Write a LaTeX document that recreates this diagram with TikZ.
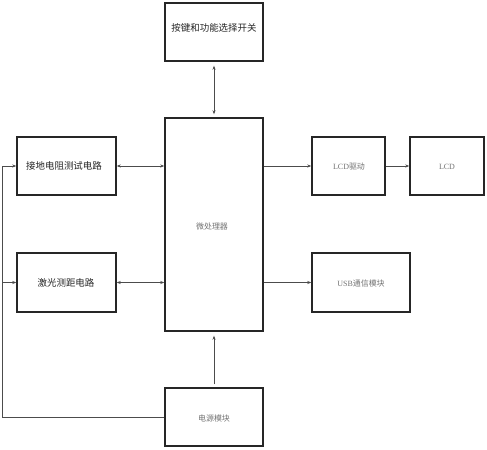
\documentclass[tikz,border=0pt]{standalone}
\usepackage{fontspec}
\setmainfont{Liberation Serif}
\newfontfamily\cjk{Noto Sans CJK SC}
\usetikzlibrary{arrows.meta}
\begin{document}
\begin{tikzpicture}[x=1bp,y=-1bp,
  blk/.style={draw=black!85,line width=1.4bp,fill=white,inner sep=0pt},
  lbl/.style={font=\cjk\fontsize{9.5}{11}\selectfont,text=black!85},
  lbll/.style={font=\cjk\fontsize{8}{10}\selectfont,text=black!55},
  con/.style={draw=black!70,line width=0.7bp,-{Stealth[length=4bp,width=3bp]}},
  dcon/.style={draw=black!70,line width=0.7bp,{Stealth[length=4bp,width=3bp]}-{Stealth[length=4bp,width=3bp]}}]
\useasboundingbox (0,0) rectangle (487,450);
% boxes
\node[blk,minimum width=98bp,minimum height=58bp] (key) at (214,32) {};
\node[lbl] at (214,28) {按键和功能选择开关};
\node[blk,minimum width=98bp,minimum height=213bp] (mcu) at (214,224.5) {};
\node[lbll] at (212,226) {微处理器};
\node[blk,minimum width=99bp,minimum height=58bp] (gnd) at (66.5,166) {};
\node[lbl] at (64,166) {接地电阻测试电路};
\node[blk,minimum width=99bp,minimum height=59bp] (laser) at (66.5,282.5) {};
\node[lbl] at (66,283) {激光测距电路};
\node[blk,minimum width=73bp,minimum height=58bp] (drv) at (348.5,166) {};
\node[lbll] at (349,167) {{\rmfamily LCD}驱动};
\node[blk,minimum width=74bp,minimum height=58bp] (lcd) at (447,166) {};
\node[lbll] at (447,167) {\rmfamily LCD};
\node[blk,minimum width=98bp,minimum height=59bp] (usb) at (361,282.5) {};
\node[lbll] at (361,283) {{\rmfamily USB}通信模块};
\node[blk,minimum width=98bp,minimum height=58bp] (pwr) at (214,417) {};
\node[lbll] at (214,418) {电源模块};
% connectors
\draw[dcon] ([yshift=-4bp]key.south) -- ([yshift=3bp]mcu.north);
\draw[dcon] (gnd.east) -- (mcu.west |- gnd.east);
\draw[dcon] (laser.east) -- (mcu.west |- laser.east);
\draw[con] (mcu.east |- drv.west) -- (drv.west);
\draw[con] (drv.east) -- (lcd.west);
\draw[con] (mcu.east |- usb.west) -- (usb.west);
\draw[con] ([yshift=3bp]pwr.north) -- ([yshift=-4bp]mcu.south);
\coordinate (c1) at (2,417);
\coordinate (c2) at (2,166);
\coordinate (c3) at (2,282.5);
\draw[draw=black!70,line width=0.7bp] (pwr.west) -- (c1) -- (c2);
\draw[con] (c2) -- (gnd.west);
\draw[con] (c3) -- (laser.west);
\end{tikzpicture}
\end{document}
